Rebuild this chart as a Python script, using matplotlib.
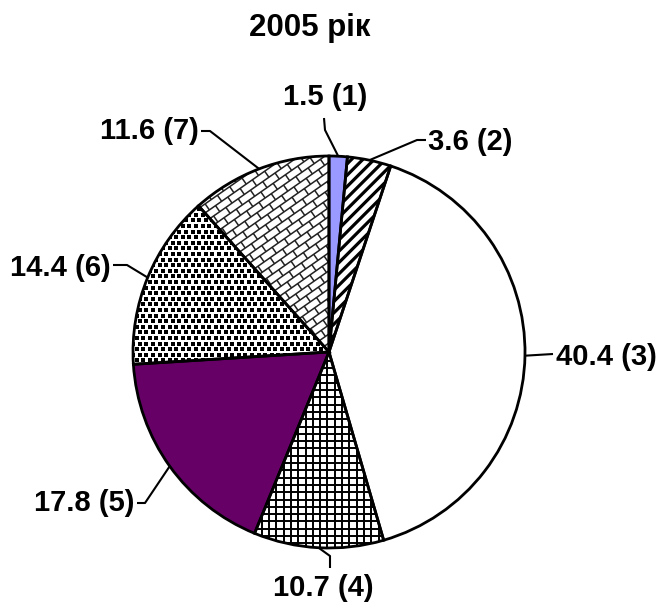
import numpy as np
import matplotlib
matplotlib.use("Agg")
import matplotlib.pyplot as plt
from matplotlib.patches import Wedge
from matplotlib.collections import LineCollection

plt.rcParams['font.family'] = ['Liberation Sans', 'DejaVu Sans']

title = "2005 рік"
values = [1.5, 3.6, 40.4, 10.7, 17.8, 14.4, 11.6]
numbers = ["1", "2", "3", "4", "5", "6", "7"]
colors = ["#9999ff", "white", "white", "white", "#660066", "white", "white"]

# pixel layout: pie centre and radius
CX, CY, R = 329, 352, 196
W, H = 662, 610


def px(x, y):
    # image pixel -> data units (radius = 1)
    return (x - CX) / R, (CY - y) / R


fig = plt.figure(figsize=(W / 100, H / 100), dpi=100)
ax = fig.add_axes([0, 0, 1, 1])

wedges, _ = ax.pie(values, colors=colors, startangle=90, counterclock=False,
                   radius=1, center=(0, 0),
                   wedgeprops=dict(edgecolor='none', linewidth=0))
ax.set_aspect('auto')
ax.set_xlim(-CX / R, (W - CX) / R)
ax.set_ylim(-(H - CY) / R, CY / R)
ax.axis('off')

s = 1.0 / R  # one pixel in data units


def lines_clip(segs, wedge, lw, color='black'):
    lc = LineCollection(segs, colors=color, linewidths=lw, zorder=2)
    ax.add_collection(lc)
    lc.set_clip_path(wedge)


# slice 2: wide diagonal stripes
segs = []
for c in np.arange(-3, 3, 8 * np.sqrt(2) * s):
    segs.append([(-1.5, -1.5 + c), (1.5, 1.5 + c)])
lines_clip(segs, wedges[1], 2.3)

# slice 4: small grid
segs = []
for c in np.arange(-1.2, 1.2, 7.3 * s):
    segs.append([(c, -1.2), (c, 1.2)])
    segs.append([(-1.2, c), (1.2, c)])
lines_clip(segs, wedges[3], 1.4)

# slice 7: diagonal bricks
ang = np.deg2rad(35)
u = np.array([np.cos(ang), np.sin(ang)])
v = np.array([-np.sin(ang), np.cos(ang)])
bw, bl = 7.4 * s, 15 * s
segs = []
for k in range(-200, 200):
    vk = k * bw
    if abs(vk) > 1.5:
        continue
    segs.append([tuple(-1.5 * u + vk * v), tuple(1.5 * u + vk * v)])
    off = (k % 2) * bl / 2
    for j in np.arange(-1.5, 1.5, bl):
        uj = j + off
        segs.append([tuple(uj * u + vk * v), tuple(uj * u + (vk + bw) * v)])
lines_clip(segs, wedges[6], 1.1, color='#222222')

# slice 6: staggered dots
pts = []
for i, yy in enumerate(np.arange(-1.1, 1.1, 5.6 * s)):
    xs = np.arange(-1.1, 1.1, 6.6 * s) + (i % 2) * 3.3 * s
    for xx in xs:
        pts.append((xx, yy))
pts = np.array(pts)
sc = ax.scatter(pts[:, 0], pts[:, 1], marker='s', s=4.8, c='black',
                linewidths=0, zorder=2)
sc.set_clip_path(wedges[5])

# outlines on top
for w in wedges:
    ax.add_patch(Wedge(w.center, w.r, w.theta1, w.theta2, fill=False,
                       edgecolor='black', linewidth=2, zorder=3))

# labels: leader path (pixels) and text anchor
label_layout = [
    ([(325, 130), (324, 118)], (325, 97), 'center'),
    ([(417, 140), (426, 140)], (428, 142), 'left'),
    ([(553, 354)], (556, 357), 'left'),
    ([(330, 556), (330, 568)], (323, 588), 'center'),
    ([(145, 503), (137, 503)], (134, 503), 'right'),
    ([(127, 265), (113, 265)], (111, 268), 'right'),
    ([(210, 131), (201, 131)], (199, 131), 'right'),
]

for w, val, num, (path, tpos, ha) in zip(wedges, values, numbers, label_layout):
    mid = np.deg2rad((w.theta1 + w.theta2) / 2)
    xs = [np.cos(mid)] + [px(*p)[0] for p in path]
    ys = [np.sin(mid)] + [px(*p)[1] for p in path]
    ax.plot(xs, ys, color='black', lw=1.5, zorder=4, solid_capstyle='butt')
    tx, ty = px(*tpos)
    ax.text(tx, ty, f"{val} ({num})", ha=ha, va='center', fontsize=21,
            fontweight='bold', zorder=5)

tx, ty = px(310, 28)
ax.text(tx, ty, title, ha='center', va='center', fontsize=22.5,
        fontweight='bold')

fig.savefig("out.png", dpi=100)
